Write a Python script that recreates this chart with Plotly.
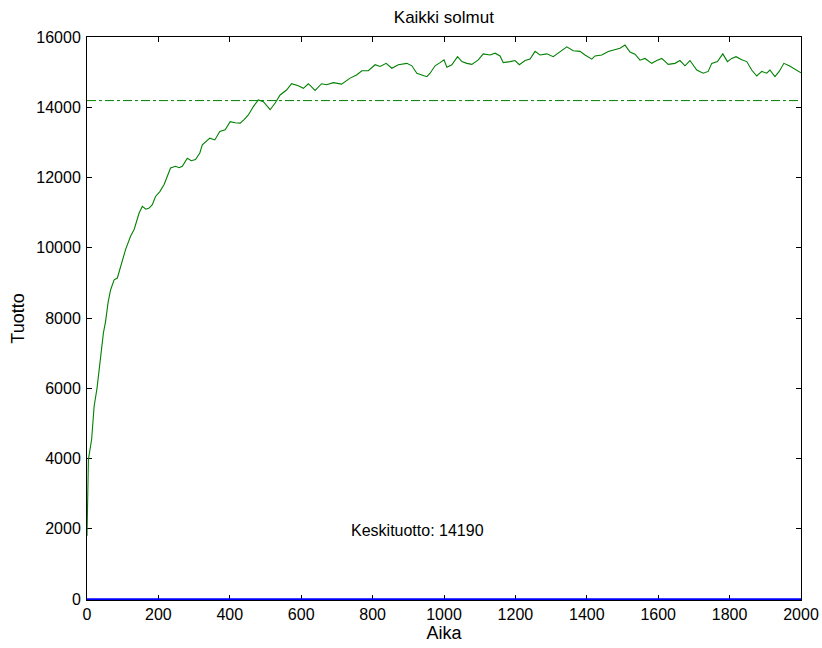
import plotly.graph_objects as go

# ---- data ----
aika = [0, 4, 13, 20, 28, 34, 46, 52, 59, 66, 76, 85, 94, 108, 122, 132, 146, 155, 165, 174,
        183, 192, 204, 216, 234, 248, 258, 267, 281, 292, 304, 316, 323, 335, 344, 358, 372, 387,
        401, 415, 429, 440, 452, 466, 480, 494, 504, 513, 527, 541, 559, 573, 592, 606, 620, 639,
        657, 671, 690, 713, 737, 755, 770, 788, 807, 821, 838, 854, 872, 896, 910, 924, 938, 952,
        961, 975, 989, 1000, 1008, 1022, 1038, 1050, 1064, 1078, 1096, 1110, 1129, 1143, 1157,
        1166, 1185, 1199, 1211, 1227, 1241, 1255, 1269, 1288, 1306, 1325, 1344, 1362, 1381, 1395,
        1414, 1423, 1442, 1460, 1479, 1493, 1507, 1521, 1535, 1549, 1563, 1582, 1596, 1610, 1628,
        1647, 1661, 1675, 1689, 1708, 1726, 1740, 1750, 1766, 1781, 1794, 1806, 1818, 1834, 1848,
        1862, 1876, 1890, 1904, 1913, 1927, 1939, 1952, 1967, 1983, 2000]
tuotto = [1800, 3980, 4550, 5490, 6000, 6540, 7580, 7900, 8440, 8800, 9090, 9140, 9470, 9950,
          10330, 10520, 10990, 11180, 11100, 11130, 11230, 11460, 11600, 11800, 12270, 12320,
          12280, 12320, 12550, 12480, 12510, 12700, 12930, 13050, 13120, 13070, 13310, 13360,
          13590, 13560, 13550, 13650, 13780, 14020, 14210, 14160, 14050, 13930, 14120, 14350,
          14490, 14670, 14610, 14540, 14670, 14480, 14670, 14640, 14700, 14660, 14830, 14920,
          15040, 15040, 15210, 15160, 15250, 15110, 15210, 15250, 15180, 14970, 14920, 14870,
          14970, 15180, 15270, 15350, 15140, 15210, 15440, 15300, 15250, 15220, 15350, 15520,
          15490, 15540, 15460, 15270, 15300, 15330, 15210, 15330, 15370, 15590, 15490, 15520,
          15440, 15590, 15720, 15610, 15590, 15490, 15370, 15460, 15490, 15590, 15650, 15680,
          15770, 15570, 15510, 15340, 15390, 15250, 15330, 15390, 15220, 15250, 15330, 15180,
          15330, 15060, 14970, 15020, 15250, 15300, 15520, 15300, 15390, 15440, 15350, 15300,
          15060, 14890, 15020, 14970, 15060, 14870, 15020, 15250, 15180, 15080, 14980]
muut_aika = [0, 2000]
muut_tuotto = [0, 0]
keskituotto = 14190

x_ticks = [0, 200, 400, 600, 800, 1000, 1200, 1400, 1600, 1800, 2000]
y_ticks = [0, 2000, 4000, 6000, 8000, 10000, 12000, 14000, 16000]

FONT = "Liberation Sans, Arial, Helvetica, sans-serif"

fig = go.Figure()
fig.add_trace(go.Scatter(x=aika, y=tuotto, mode="lines",
                         line=dict(color="#008000", width=1.1), showlegend=False))
fig.add_trace(go.Scatter(x=[aika[0], aika[-1]], y=[keskituotto, keskituotto], mode="lines",
                         line=dict(color="#008000", width=1, dash="dashdot"), showlegend=False))
fig.add_trace(go.Scatter(x=muut_aika, y=muut_tuotto, mode="lines",
                         line=dict(color="#0000ff", width=1.6), showlegend=False))

fig.add_annotation(x=734, y=1950, xref="x", yref="y", text=f"Keskituotto: {keskituotto}",
                   showarrow=False, xanchor="left", yanchor="middle",
                   font=dict(family=FONT, size=16, color="black"))

axis_common = dict(showgrid=False, zeroline=False, showline=True, linecolor="black", linewidth=1,
                   mirror="ticks", ticks="inside", ticklen=5, tickcolor="black", tickwidth=1,
                   automargin=False,
                   tickfont=dict(family=FONT, size=16, color="black"), layer="below traces")

fig.update_layout(
    width=822, height=648,
    margin=dict(l=87, r=21, t=37, b=48),
    paper_bgcolor="white", plot_bgcolor="white",
    title=dict(text="Kaikki solmut", x=0.54, xanchor="center", y=0.974, yanchor="middle",
               font=dict(family=FONT, size=17, color="black")),
    xaxis=dict(range=[0, 2000], tickvals=x_ticks, ticktext=[str(v) for v in x_ticks],
               title=dict(text="Aika", standoff=2, font=dict(family=FONT, size=18, color="black")),
               **axis_common),
    yaxis=dict(range=[-25, 16000], tickvals=y_ticks, ticktext=[str(v) for v in y_ticks],
               ticklabelstandoff=2,
               title=dict(text="Tuotto", standoff=6, font=dict(family=FONT, size=18, color="black")),
               **axis_common),
)

fig.write_html("out.html")
